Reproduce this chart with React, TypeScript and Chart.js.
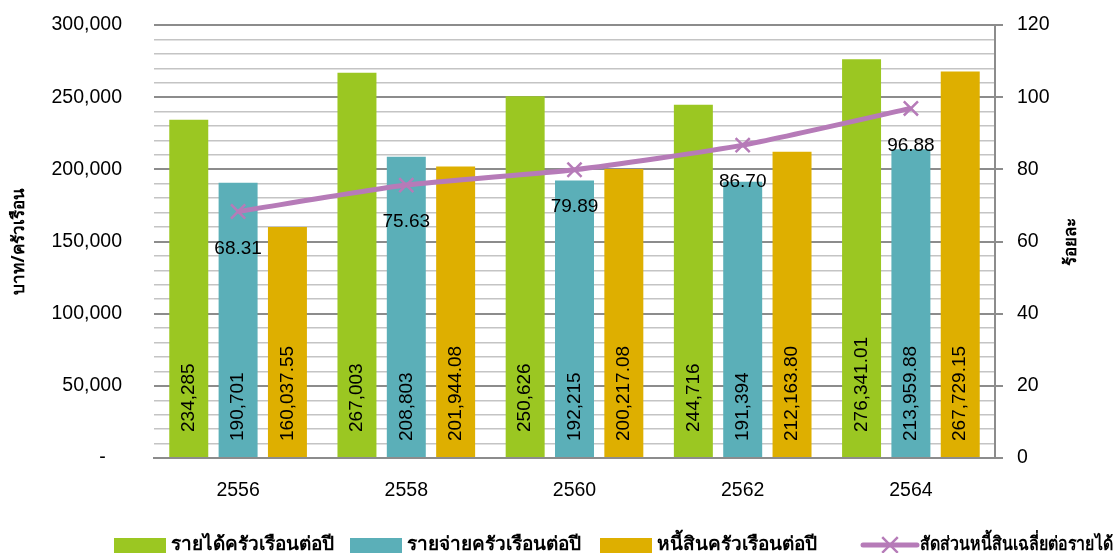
import React, { useEffect, useRef } from 'react';
import { Chart, registerables } from 'chart.js';

Chart.register(...registerables);

const years = ['2556', '2558', '2560', '2562', '2564'];
const income = [234285, 267003, 250626, 244716, 276341.01];
const expense = [190701, 208803, 192215, 191394, 213959.88];
const debt = [160037.55, 201944.08, 200217.08, 212163.8, 267729.15];
const ratio = [68.31, 75.63, 79.89, 86.7, 96.88];

const seriesNames = [
  'รายได้ครัวเรือนต่อปี',
  'รายจ่ายครัวเรือนต่อปี',
  'หนี้สินครัวเรือนต่อปี',
  'สัดส่วนหนี้สินเฉลี่ยต่อรายได้',
];
const leftTitle = 'บาท/ครัวเรือน';
const rightTitle = 'ร้อยละ';

const GREEN = '#9bc722';
const TEAL = '#5bafb8';
const GOLD = '#deaf00';
const PURPLE = '#b67bb8';

const LATIN = "'Liberation Sans', Arial, sans-serif";
const THAI = "'Noto Sans', 'DejaVu Sans', sans-serif";

// legend item left edges (layout of the legend row)
const legendStarts = [114, 350, 600, 863];

const fmtBar = (v: number) =>
  Number.isInteger(v)
    ? v.toLocaleString('en-US')
    : v.toLocaleString('en-US', { minimumFractionDigits: 2, maximumFractionDigits: 2 });

function drawCross(ctx: CanvasRenderingContext2D, x: number, y: number, r: number) {
  const d = r * Math.SQRT1_2;
  ctx.beginPath();
  ctx.moveTo(x - d, y - d);
  ctx.lineTo(x + d, y + d);
  ctx.moveTo(x + d, y - d);
  ctx.lineTo(x - d, y + d);
  ctx.stroke();
}

const overlayPlugin = {
  id: 'overlay',
  afterDatasetsDraw(chart: any) {
    const ctx: CanvasRenderingContext2D = chart.ctx;
    ctx.save();
    chart.data.datasets.forEach((ds: any, di: number) => {
      const meta = chart.getDatasetMeta(di);
      ctx.font = `19px ${LATIN}`;
      ctx.fillStyle = '#000';
      if (ds.type === 'line') {
        ctx.textAlign = 'center';
        ctx.textBaseline = 'middle';
        meta.data.forEach((pt: any, i: number) => {
          ctx.fillText(ds.data[i].toFixed(2), pt.x, pt.y + 37);
        });
      } else {
        ctx.textAlign = 'left';
        ctx.textBaseline = 'middle';
        const off = ds.labelOffset;
        meta.data.forEach((bar: any, i: number) => {
          ctx.save();
          ctx.translate(bar.x, bar.base - off);
          ctx.rotate(-Math.PI / 2);
          ctx.fillText(fmtBar(ds.data[i]), 0, 0);
          ctx.restore();
        });
      }
    });
    ctx.restore();
  },
  afterDraw(chart: any) {
    const ctx: CanvasRenderingContext2D = chart.ctx;
    const area = chart.chartArea;
    const midY = (area.top + area.bottom) / 2;
    ctx.save();
    // axis titles
    ctx.font = `bold 17px ${THAI}`;
    ctx.fillStyle = '#000';
    ctx.textAlign = 'center';
    ctx.textBaseline = 'middle';
    ctx.save();
    ctx.translate(19, midY);
    ctx.rotate(-Math.PI / 2);
    ctx.fillText(leftTitle, 0, 0);
    ctx.restore();
    ctx.save();
    ctx.translate(1071, midY);
    ctx.rotate(-Math.PI / 2);
    ctx.fillText(rightTitle, 0, 0);
    ctx.restore();

    // legend
    ctx.font = `bold 19px ${THAI}`;
    ctx.textAlign = 'left';
    ctx.textBaseline = 'middle';
    const cy = 545;
    const colors = [GREEN, TEAL, GOLD];
    for (let i = 0; i < 3; i++) {
      const x = legendStarts[i];
      ctx.fillStyle = colors[i];
      ctx.fillRect(x, 538, 52, 18);
      ctx.fillStyle = '#000';
      ctx.fillText(seriesNames[i], x + 57, cy, legendStarts[i + 1] - x - 57 - 16);
    }
    const x = legendStarts[3];
    ctx.strokeStyle = PURPLE;
    ctx.lineWidth = 5;
    ctx.lineCap = 'round';
    ctx.beginPath();
    ctx.moveTo(x, cy);
    ctx.lineTo(x + 54, cy);
    ctx.stroke();
    ctx.lineWidth = 2.5;
    ctx.lineCap = 'butt';
    drawCross(ctx, x + 27, cy, 11);
    ctx.fillStyle = '#000';
    ctx.fillText(seriesNames[3], x + 57, cy, chart.width - (x + 57) - 5);
    ctx.restore();
  },
};

export default function App() {
  const ref = useRef<HTMLCanvasElement | null>(null);

  useEffect(() => {
    document.body.style.margin = '0';
    const canvas = ref.current;
    if (!canvas) return;
    const chart = new Chart(canvas, {
      type: 'bar',
      data: {
        labels: years,
        datasets: [
          {
            type: 'line',
            label: seriesNames[3],
            data: ratio,
            yAxisID: 'y1',
            borderColor: PURPLE,
            backgroundColor: PURPLE,
            borderWidth: 5,
            tension: 0.2,
            pointStyle: 'crossRot',
            pointRadius: 10,
            pointBorderWidth: 2.5,
            pointBorderColor: PURPLE,
            order: 0,
          } as any,
          {
            type: 'bar',
            label: seriesNames[0],
            data: income,
            backgroundColor: GREEN,
            yAxisID: 'y',
            order: 1,
            labelOffset: 25,
          } as any,
          {
            type: 'bar',
            label: seriesNames[1],
            data: expense,
            backgroundColor: TEAL,
            yAxisID: 'y',
            order: 1,
            labelOffset: 16,
          } as any,
          {
            type: 'bar',
            label: seriesNames[2],
            data: debt,
            backgroundColor: GOLD,
            yAxisID: 'y',
            order: 1,
            labelOffset: 16,
          } as any,
        ],
      },
      options: {
        animation: false,
        responsive: true,
        maintainAspectRatio: false,
        datasets: {
          bar: { categoryPercentage: 0.88, barPercentage: 0.79 },
        },
        layout: { padding: { top: 25, left: 0, right: 0, bottom: 0 } },
        plugins: {
          legend: { display: false },
          tooltip: { enabled: false },
        },
        scales: {
          x: {
            grid: { display: false, drawTicks: false },
            border: { display: true, color: '#8c8c8c', width: 2 },
            ticks: {
              color: '#000',
              font: { family: LATIN, size: 19.5 },
              padding: 21,
            },
            afterFit: (s: any) => {
              s.height = 95;
            },
          },
          y: {
            position: 'left',
            min: 0,
            max: 300000,
            grid: {
              drawTicks: false,
              color: (c: any) => (c.tick && c.tick.value % 50000 === 0 ? '#8c8c8c' : '#c4c4c4'),
              lineWidth: (c: any) => (c.tick && c.tick.value % 50000 === 0 ? 2 : 1.5),
            },
            border: { display: false },
            ticks: {
              stepSize: 10000,
              autoSkip: false,
              color: '#000',
              font: { family: LATIN, size: 19.5 },
              padding: 32,
              callback: (v: any) =>
                v % 50000 === 0 ? (v === 0 ? '-   ' : Number(v).toLocaleString('en-US')) : '',
            },
            afterFit: (s: any) => {
              s.width = 154;
              s.paddingTop = 0;
              s.paddingBottom = 0;
            },
          },
          y1: {
            position: 'right',
            min: 0,
            max: 120,
            grid: {
              drawOnChartArea: false,
              drawTicks: true,
              tickLength: 8,
              color: '#8c8c8c',
              lineWidth: 2,
            },
            border: { display: true, color: '#8c8c8c', width: 2 },
            ticks: {
              stepSize: 20,
              color: '#000',
              font: { family: LATIN, size: 19.5 },
              padding: 14,
            },
            afterFit: (s: any) => {
              s.width = 123;
              s.paddingTop = 0;
              s.paddingBottom = 0;
            },
          },
        },
      },
      plugins: [overlayPlugin],
    });
    return () => chart.destroy();
  }, []);

  return (
    <div style={{ position: 'fixed', left: 0, top: 0, width: 1118, height: 553 }}>
      <canvas ref={ref} />
    </div>
  );
}
